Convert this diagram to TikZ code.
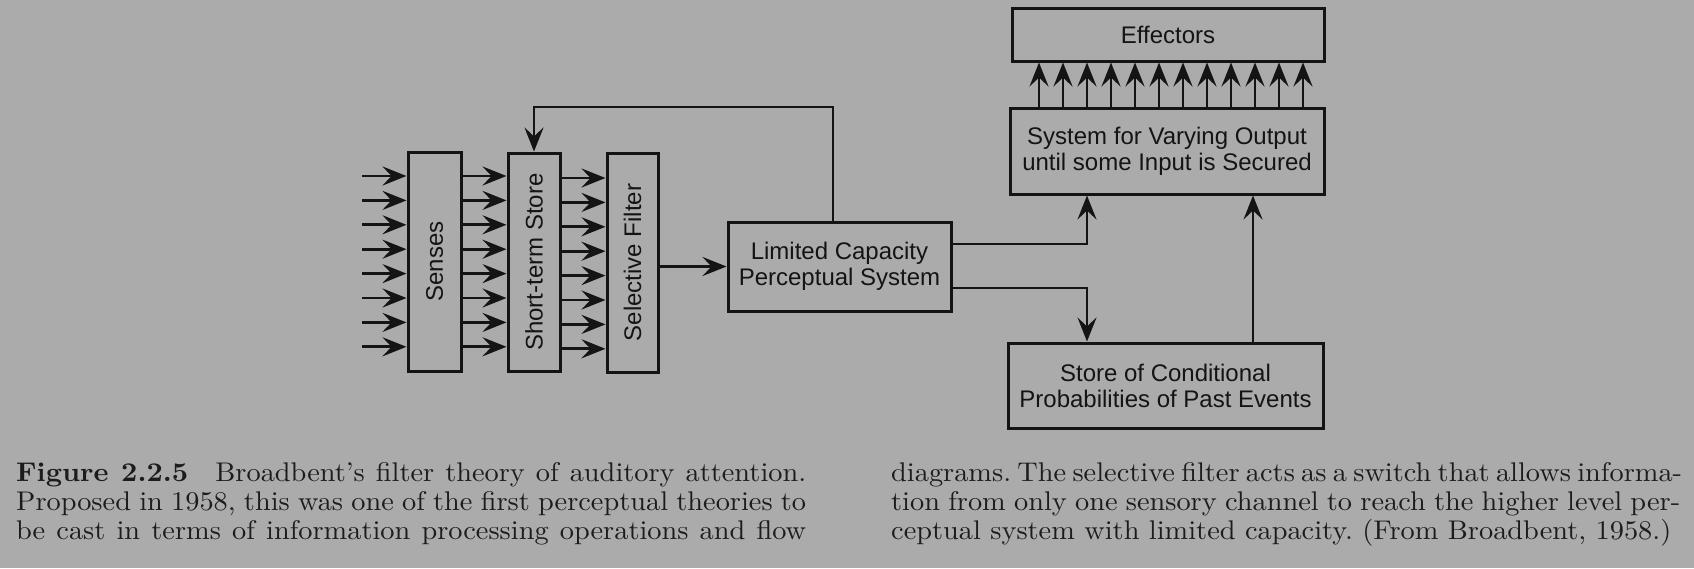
\documentclass[tikz,border=0pt]{standalone}
\usepackage{fontspec}
\usepackage{graphicx}
\setsansfont{Liberation Sans}
\newfontfamily\capfont{lmroman10-regular}[Extension=.otf,
  BoldFont=lmroman10-bold, Ligatures=TeX, FakeStretch=1.05]
\usetikzlibrary{arrows.meta}

\definecolor{paper}{RGB}{170,171,170}
\definecolor{ink}{RGB}{20,20,20}
\definecolor{print}{RGB}{28,28,28}

\begin{document}
\begin{tikzpicture}[x=1pt,y=-1pt,
  box/.style={draw=ink, line width=3pt, inner sep=0pt, text=ink,
    font=\sffamily\fontsize{24}{26}\selectfont, align=center},
  flow/.style={draw=ink, line width=2.8pt,
    -{Stealth[length=24pt,width=19pt,inset=9pt]}},
  capline/.style={inner sep=0pt, text=print, anchor=base west,
    font=\capfont\fontsize{27}{30}\selectfont\frenchspacing}]

% page
\fill[paper] (0,0) rectangle (1694,568);
\useasboundingbox (0,0) rectangle (1694,568);

% processing stages
\node[box, minimum width=53pt, minimum height=219pt] (senses) at (434.5,261.5)
  {\rotatebox{90}{Senses}};
\node[box, minimum width=52pt, minimum height=218pt] (sts) at (534,262)
  {\rotatebox{90}{Short-term Store}};
\node[box, minimum width=51pt, minimum height=219pt] (sf) at (632.5,262.5)
  {\rotatebox{90}{Selective Filter}};
\node[box, minimum width=223pt, minimum height=89pt] (lcps) at (839.5,266.5)
  {Limited Capacity\\Perceptual System};
\node[box, minimum width=312pt, minimum height=53pt] (eff) at (1168,34.5)
  {Effectors};
\node[box, minimum width=314pt, minimum height=86pt] (sys) at (1167,151)
  {System for Varying Output\\until some Input is Secured};
\node[box, minimum width=315pt, minimum height=85pt] (store) at (1165.5,385.5)
  {Store of Conditional\\Probabilities of Past Events};

% parallel sensory channels
\foreach \i in {0,...,7} {
  \coordinate (ch\i) at (362,176+24.4*\i);
  \draw[flow] (ch\i) -- (ch\i -| senses.west);
  \draw[flow] (ch\i -| senses.east) -- (ch\i -| sts.west);
  \draw[flow] ([yshift=-2pt]ch\i -| sts.east) -- ([yshift=-2pt]ch\i -| sf.west);
}

% selected channel into the perceptual system
\draw[flow] (sf.east |- lcps.west) -- (lcps.west);

% feedback to the short-term store
\coordinate (fb) at (833,107);
\draw[flow] (fb |- lcps.north) -- (fb) -| (sts.north);

% outputs of the perceptual system
\coordinate (up) at (1087,244);
\coordinate (down) at (1087,288);
\draw[flow] (lcps.east |- up) -| (sys.south -| up);
\draw[flow] (lcps.east |- down) -| (store.north -| down);

% stored probabilities feed the output system
\coordinate (sp) at (1253,0);
\draw[flow] (store.north -| sp) -- (sys.south -| sp);

% output lines to the effectors
\foreach \i in {0,...,11} {
  \coordinate (ef\i) at (1039+24*\i,0);
  \draw[flow] (ef\i |- sys.north) -- (ef\i |- eff.south);
}

% caption, two columns
\node[capline] (l1) at (16,481) {\makebox[790pt][s]{\textbf{Figure 2.2.5}\hspace{0.6em} Broadbent's filter theory of auditory attention.}};
\node[capline] (l2) at (16,510) {\makebox[790pt][s]{Proposed in 1958, this was one of the first perceptual theories to}};
\node[capline] (l3) at (16,539) {\makebox[790pt][s]{be cast in terms of information processing operations and flow}};
\node[capline] (r1) at (891,481) {\makebox[789pt][s]{diagrams. The selective filter acts as a switch that allows informa-}};
\node[capline] (r2) at (891,510) {\makebox[789pt][s]{tion from only one sensory channel to reach the higher level per-}};
\node[capline] (r3) at (891,539) {ceptual system with limited capacity. (From Broadbent, 1958.)};
\end{tikzpicture}
\end{document}
